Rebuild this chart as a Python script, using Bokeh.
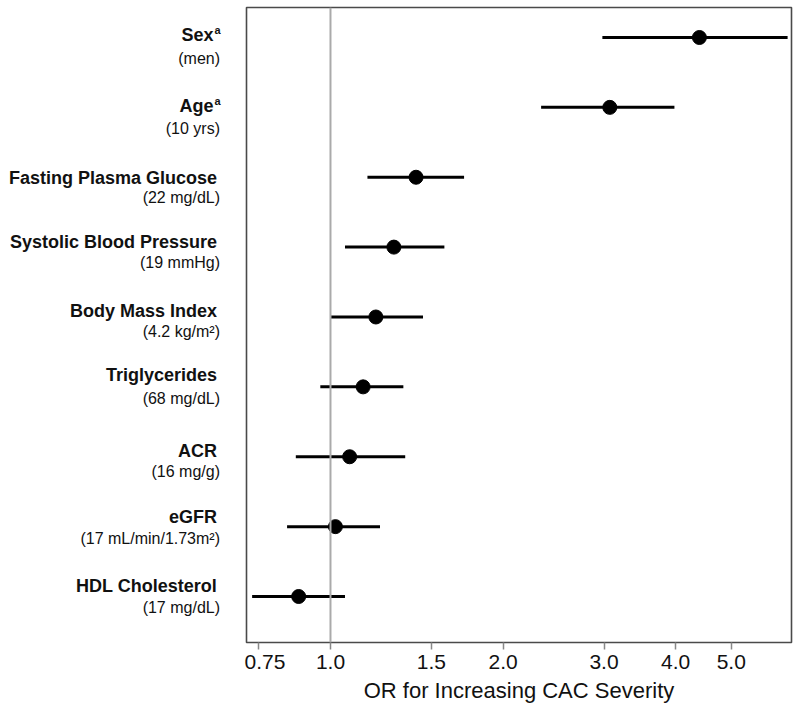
from bokeh.plotting import figure
from bokeh.models import Range1d, FixedTicker, CustomJSTickFormatter, Span, ColumnDataSource
from bokeh.layouts import row
from bokeh.core.properties import value
from bokeh.embed import file_html
from bokeh.resources import INLINE

# ---- data ----
main_labels = ["Sex", "Age", "Fasting Plasma Glucose", "Systolic Blood Pressure",
               "Body Mass Index", "Triglycerides", "ACR", "eGFR", "HDL Cholesterol"]
superscripts = ["a", "a", "", "", "", "", "", "", ""]
sub_labels = ["(men)", "(10 yrs)", "(22 mg/dL)", "(19 mmHg)", "(4.2 kg/m\u00b2)",
              "(68 mg/dL)", "(16 mg/g)", "(17 mL/min/1.73m\u00b2)", "(17 mg/dL)"]
odds_ratio = [4.40, 3.07, 1.41, 1.29, 1.20, 1.14, 1.08, 1.02, 0.88]
ci_low = [2.98, 2.33, 1.16, 1.06, 1.00, 0.96, 0.87, 0.84, 0.73]
ci_high = [6.27, 3.98, 1.71, 1.58, 1.45, 1.34, 1.35, 1.22, 1.06]
tick_values = [0.75, 1.0, 1.5, 2.0, 3.0, 4.0, 5.0]
tick_labels = ["0.75", "1.0", "1.5", "2.0", "3.0", "4.0", "5.0"]
x_label = "OR for Increasing CAC Severity"

# ---- layout constants ----
n = len(main_labels)
rows = list(range(n, 0, -1))
PPU = 69.875  # pixels per row
main_dy = [-2, -1, 1, -5, -6, -12, -6, -10, -11]   # px, positive = downward
sub_dy = [21, 21, 20, 15, 15, 12, 15, 12, 11]
sup_dy = -5
FONT = "Liberation Sans"
LEFT_W = 244
H = 713
TOP = 7
BOTTOM = 71

yr = Range1d(0.3417, 9.4293)

# ---- main plot ----
src = ColumnDataSource(dict(y=rows, orr=odds_ratio, lo=ci_low, hi=ci_high))

p = figure(width=554, height=H, x_axis_type="log",
           x_range=Range1d(0.7137, 6.369), y_range=yr,
           output_backend="svg", toolbar_location=None,
           min_border_left=2, min_border_right=7, min_border_top=TOP, min_border_bottom=BOTTOM)

p.xgrid.visible = False
p.ygrid.visible = False
p.yaxis.visible = False
p.outline_line_color = "#4a4a4a"
p.outline_line_width = 1.6

p.add_layout(Span(location=1.0, dimension="height", line_color="#aaaaaa", line_width=2))

p.segment(x0="lo", x1="hi", y0="y", y1="y", source=src, line_color="black", line_width=3)
p.scatter(x="orr", y="y", source=src, size=14, fill_color="black", line_color="black")

ax = p.xaxis[0]
ax.ticker = FixedTicker(ticks=tick_values, minor_ticks=[])
ax.formatter = CustomJSTickFormatter(args=dict(vals=tick_values, labs=tick_labels), code="""
const i = vals.findIndex(v => Math.abs(v - tick) < 1e-9);
return i >= 0 ? labs[i] : '';
""")
ax.axis_line_color = None
ax.major_tick_in = 0
ax.major_tick_out = 7
ax.major_tick_line_color = "#888888"
ax.major_tick_line_width = 1.5
ax.minor_tick_line_color = None
ax.major_label_text_font = FONT
ax.major_label_text_font_size = "21px"
ax.major_label_text_color = "#111111"
ax.major_label_standoff = 5
ax.axis_label = x_label
ax.axis_label_text_font = FONT
ax.axis_label_text_font_size = "22px"
ax.axis_label_text_font_style = "normal"
ax.axis_label_text_color = "#111111"
ax.axis_label_standoff = 6

# ---- left label panel ----
lp = figure(width=LEFT_W, height=H, x_range=Range1d(0, LEFT_W), y_range=yr,
            output_backend="svg", toolbar_location=None,
            min_border_left=0, min_border_right=0, min_border_top=TOP, min_border_bottom=BOTTOM)
lp.axis.visible = False
lp.grid.visible = False
lp.outline_line_color = None

plain_x, plain_y, plain_t = [], [], []
supm_x, supm_y, supm_t = [], [], []
sup_x, sup_y, sup_t = [], [], []
for i in range(n):
    if superscripts[i]:
        supm_x.append(213); supm_y.append(rows[i] - main_dy[i] / PPU); supm_t.append(main_labels[i])
        sup_x.append(214); sup_y.append(rows[i] - (main_dy[i] + sup_dy) / PPU); sup_t.append(superscripts[i])
    else:
        plain_x.append(216.5); plain_y.append(rows[i] - main_dy[i] / PPU); plain_t.append(main_labels[i])

common = dict(text_font=value(FONT), text_color="#111111", text_baseline="middle")
lp.text(x=plain_x + supm_x, y=plain_y + supm_y, text=plain_t + supm_t, text_align="right",
        text_font_style="bold", text_font_size=value("18px"), **common)
lp.text(x=sup_x, y=sup_y, text=sup_t, text_align="left",
        text_font_style="bold", text_font_size=value("11px"), **common)
lp.text(x=[219.5] * n, y=[rows[i] - sub_dy[i] / PPU for i in range(n)], text=sub_labels,
        text_align="right", text_font_size=value("16px"), **common)

layout = row(lp, p)
open("out.html", "w").write(file_html(layout, INLINE))
